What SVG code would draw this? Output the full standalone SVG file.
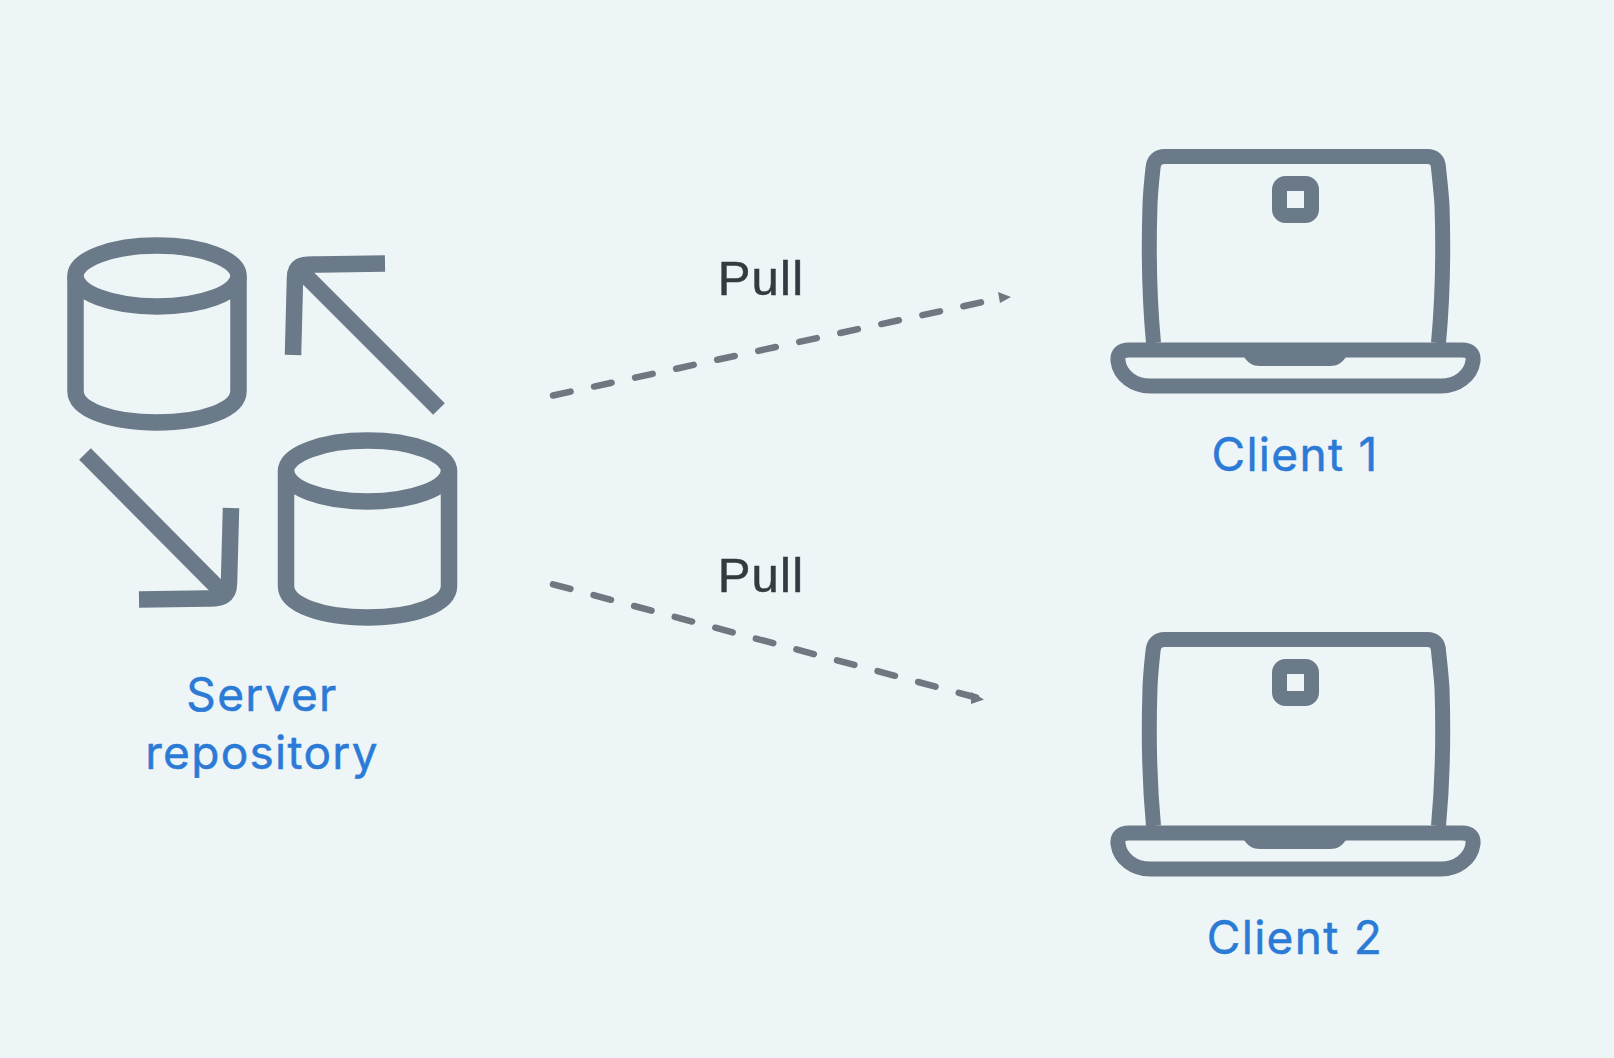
<svg xmlns="http://www.w3.org/2000/svg" width="1614" height="1058" viewBox="0 0 1614 1058">
<style>
.ic{fill:none;stroke:#6b7a88;stroke-width:16.5;stroke-linejoin:round}
.lp{fill:none;stroke:#6b7a88;stroke-width:15;stroke-linejoin:round}
.tip{fill:#6b7a88}
.lb{font-family:Inter,"Liberation Sans",sans-serif;font-size:46px;letter-spacing:1.3px;fill:#2b7bd6;text-anchor:middle;stroke:#2b7bd6;stroke-width:.5}
.pl{font-family:"Liberation Sans",Arial,sans-serif;font-size:49px;letter-spacing:1.2px;fill:#333a40;text-anchor:middle;stroke:#333a40;stroke-width:.5}
.dash{fill:none;stroke:#6f7780;stroke-width:6.5;stroke-linecap:round;stroke-dasharray:18 24}
</style>
<defs>
<g id="cyl"><ellipse cx="157" cy="276" rx="81.5" ry="30.5"/><path d="M75.500 276V391C75.500 410 112 422.500 157 422.500S238.500 410 238.500 391V276"/></g>
<g id="lap"><path d="M1153.500 343C1149.500 300 1148.500 250 1150 205C1150.500 190 1152 178 1153 168Q1154 156.500 1165 156.500H1427Q1438 156.500 1438.500 168C1439.500 178 1441 190 1442 205C1443.500 250 1442.500 300 1438.500 343"/><rect x="1279.500" y="183.500" width="32" height="32" rx="6"/><path d="M1129 350H1462Q1474 350 1473 361C1471 376 1457 386 1441 386H1150C1134 386 1120 376 1118 361Q1117 350 1129 350Z"/><path d="M1243 355H1347C1343 363 1337 366 1330 366H1260C1253 366 1247 363 1243 355Z" fill="#6b7a88" stroke="none"/></g>
</defs>
<rect width="1614" height="1058" fill="#eef5f7"/>
<g id="server-repository">
<g class="ic"><use href="#cyl"/><use href="#cyl" x="210.500" y="195"/><path d="M439 409L297 267"/><path d="M385 263.500L318 264.500C304 265 295 263 295 278L293 355"/><path d="M85 454L228 598"/><path d="M231 508L229 583C229 597 220 599 208 598.500L139 599.500"/></g>
<path class="tip" d="M298 268L313 271L302 286Z"/><path class="tip" d="M226 596L222 579L209 592Z"/>
<text class="lb" x="262" y="711">Server</text><text class="lb" x="262" y="769">repository</text>
</g>
<g id="client-1" class="lp"><use href="#lap"/></g>
<text class="lb" x="1295" y="471">Client 1</text>
<g id="client-2" class="lp"><use href="#lap" y="483"/></g>
<text class="lb" x="1295" y="954">Client 2</text>
<g id="connectors">
<path class="dash" d="M553 395.500L985 301.500"/>
<path d="M998 292L1011 297L1000 303Z" fill="#6f7780"/>
<path class="dash" d="M553 584.300L978 698"/>
<path d="M971 692L984 699.500L971 704Z" fill="#6f7780"/>
<text class="pl" x="761" y="295">Pull</text>
<text class="pl" x="761" y="592">Pull</text>
</g>
</svg>
